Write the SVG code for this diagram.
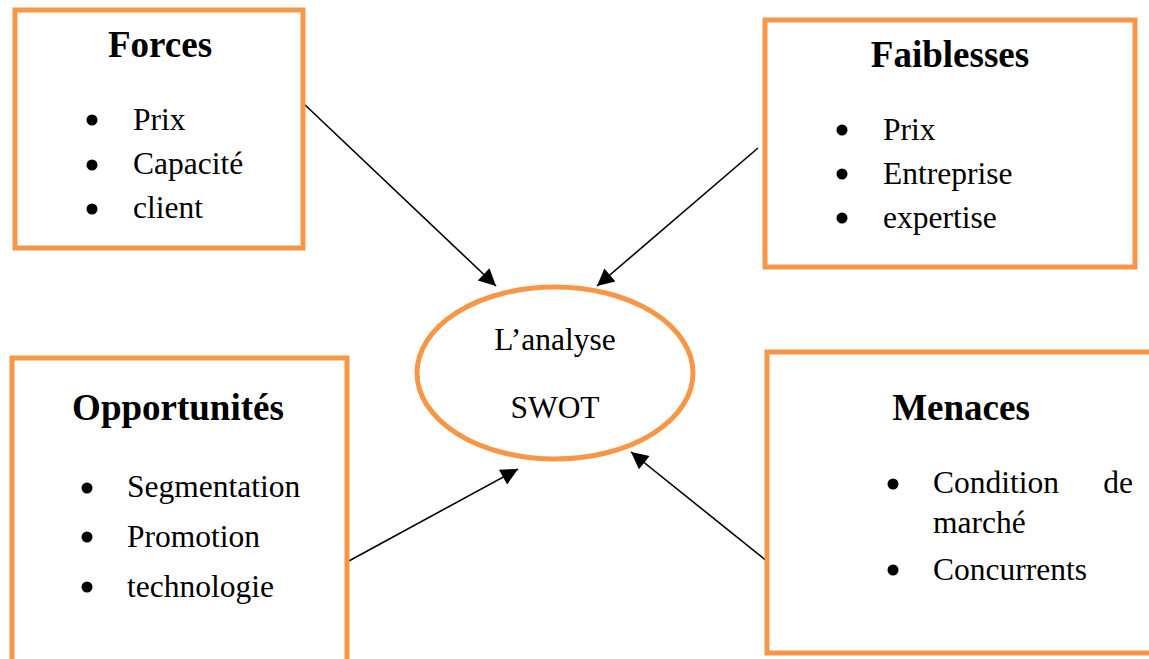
<svg xmlns="http://www.w3.org/2000/svg" width="1149" height="659" viewBox="0 0 1149 659">
<defs>
<style>
.box{fill:#fff;stroke:#F79646;stroke-width:5}
.title{font-family:"Liberation Serif","Times New Roman",serif;font-size:37px;font-weight:bold;fill:#000;text-anchor:middle}
.item{font-family:"Liberation Serif","Times New Roman",serif;font-size:31.5px;fill:#000}
.center{font-family:"Liberation Serif","Times New Roman",serif;font-size:31.5px;fill:#000;text-anchor:middle}
.bullet{fill:#000}
.conn{stroke:#000;stroke-width:1.6;fill:none;marker-end:url(#arr)}
</style>
<marker id="arr" viewBox="0 0 10 10" refX="10" refY="5" markerWidth="23" markerHeight="17" markerUnits="userSpaceOnUse" orient="auto">
<path d="M0,0 L10,5 L0,10 z" fill="#000"/>
</marker>
</defs>
<rect width="1149" height="659" fill="#fff"/>
<g id="connectors">
<line class="conn" x1="303" y1="103" x2="496" y2="286"/>
<line class="conn" x1="758" y1="148" x2="597" y2="286"/>
<line class="conn" x1="347" y1="562" x2="518" y2="469"/>
<line class="conn" x1="768" y1="562" x2="631" y2="452"/>
</g>
<g id="forces">
<rect class="box" x="15" y="10" width="288" height="238"/>
<text class="title" x="160" y="57">Forces</text>
<circle class="bullet" cx="92" cy="120" r="5.5"/>
<text class="item" x="133" y="130">Prix</text>
<circle class="bullet" cx="92" cy="165" r="5.5"/>
<text class="item" x="133" y="174">Capacité</text>
<circle class="bullet" cx="92" cy="209" r="5.5"/>
<text class="item" x="133" y="218">client</text>
</g>
<g id="faiblesses">
<rect class="box" x="765" y="20" width="370" height="247"/>
<text class="title" x="950" y="67">Faiblesses</text>
<circle class="bullet" cx="842" cy="130" r="5.5"/>
<text class="item" x="883" y="140">Prix</text>
<circle class="bullet" cx="842" cy="174" r="5.5"/>
<text class="item" x="883" y="184">Entreprise</text>
<circle class="bullet" cx="842" cy="218" r="5.5"/>
<text class="item" x="883" y="228">expertise</text>
</g>
<g id="opportunites">
<rect class="box" x="12" y="358" width="335" height="320"/>
<text class="title" x="178" y="420">Opportunités</text>
<circle class="bullet" cx="87" cy="488" r="5.5"/>
<text class="item" x="127" y="497">Segmentation</text>
<circle class="bullet" cx="87" cy="537" r="5.5"/>
<text class="item" x="127" y="547">Promotion</text>
<circle class="bullet" cx="87" cy="587" r="5.5"/>
<text class="item" x="127" y="597">technologie</text>
</g>
<g id="menaces">
<rect class="box" x="767" y="352" width="400" height="301"/>
<text class="title" x="961" y="420">Menaces</text>
<circle class="bullet" cx="893" cy="484" r="5.5"/>
<text class="item" x="933" y="493">Condition</text>
<text class="item" x="1133" y="493" text-anchor="end">de</text>
<text class="item" x="933" y="533">marché</text>
<circle class="bullet" cx="893" cy="570" r="5.5"/>
<text class="item" x="933" y="580">Concurrents</text>
</g>
<g id="swot">
<ellipse class="box" cx="555" cy="373" rx="138" ry="86"/>
<text class="center" x="555" y="350">L’analyse</text>
<text class="center" x="555" y="418">SWOT</text>
</g>
</svg>
